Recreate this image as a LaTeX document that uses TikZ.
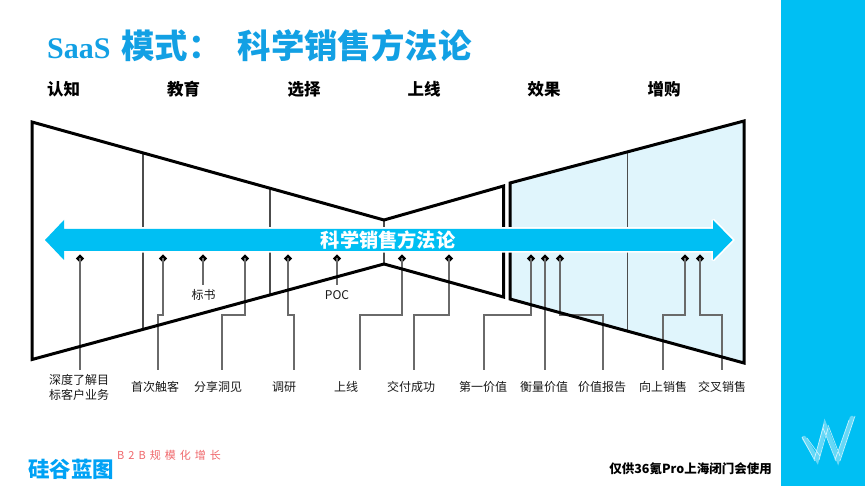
\documentclass[tikz,border=0pt]{standalone}
\usepackage{fontspec}
\setmainfont{Noto Sans CJK SC}
\newfontfamily\latinbold{Liberation Serif}
\usetikzlibrary{shapes.geometric}
\definecolor{cyanband}{HTML}{00BFF3}
\definecolor{titleblue}{HTML}{12A0E4}
\definecolor{palefill}{HTML}{E0F5FC}
\definecolor{linegray}{HTML}{6A6A6A}
\definecolor{logored}{HTML}{F0686C}
\newcommand{\fs}[1]{\fontsize{#1}{#1}\selectfont}
\tikzset{
  x=1pt,y=-1pt,
  outline/.style={draw=black,line width=3pt,line join=miter},
  divider/.style={draw=black!70,line width=1.1pt},
  conn/.style={draw=linegray,line width=1.1pt},
  pinmark/.style={diamond,fill=black,inner sep=0pt,minimum size=8.5pt},
  lab/.style={inner sep=0pt,font=\fs{12},text=black!90,align=center},
  head/.style={inner sep=0pt,font=\fs{16.5}\bfseries,text=black},
}
\begin{document}
\begin{tikzpicture}
\useasboundingbox (0,0) rectangle (865,486);
\fill[white] (0,0) rectangle (865,486);
\fill[cyanband] (781,0) rectangle (865,486);

% title and phase headers
\node[anchor=base west,inner sep=0pt,text=titleblue,font=\fs{33.4}\bfseries] (title) at (47,59)
  {{\latinbold\fs{30}SaaS}\hspace{11pt}模式：\hspace{16pt}科学销售方法论};
\node[head] (h1) at (63.5,89) {认知};
\node[head] (h2) at (183.5,89) {教育};
\node[head] (h3) at (304,89) {选择};
\node[head] (h4) at (424,89) {上线};
\node[head] (h5) at (544,89) {效果};
\node[head] (h6) at (664,89) {增购};

% funnel fill
\fill[palefill] (510,183) -- (744,121) -- (744,363) -- (510,299) -- cycle;

% dividers
\draw[divider] (143,153) -- (143,328);
\draw[divider] (270,189) -- (270,294);
\draw[divider] (384,220) -- (384,264);
\draw[divider] (627.5,153) -- (627.5,330);

% pins
\foreach \n/\x in {a/80,b/163,c/203,d/245,e/288,f/337,g/402,h/449,i/531,j/545,k/560,l/685,m/700}
  \node[pinmark] (p\n) at (\x,258.5) {};

% drop ends
\coordinate (ea) at (80,370);
\coordinate (eb) at (158,370);
\coordinate (ec) at (203,285);
\coordinate (ed) at (222,370);
\coordinate (ee) at (294,370);
\coordinate (ef) at (337,285);
\coordinate (eg) at (360,370);
\coordinate (eh) at (414,370);
\coordinate (ei) at (484,370);
\coordinate (ej) at (545,370);
\coordinate (ek) at (603,370);
\coordinate (el) at (663,370);
\coordinate (em) at (722,370);

% connectors
\draw[conn] (pa.center) -- (ea);
\draw[conn] (pb.center) -- ++(0,56.5) -| (eb);
\draw[conn] (pc.center) -- (ec);
\draw[conn] (pd.center) -- ++(0,56.5) -| (ed);
\draw[conn] (pe.center) -- ++(0,56.5) -| (ee);
\draw[conn] (pf.center) -- (ef);
\draw[conn] (pg.center) -- ++(0,56.5) -| (eg);
\draw[conn] (ph.center) -- ++(0,56.5) -| (eh);
\draw[conn] (pi.center) -- ++(0,56.5) -| (ei);
\draw[conn] (pj.center) -- (ej);
\draw[conn] (pk.center) -- ++(0,56.5) -| (ek);
\draw[conn] (pl.center) -- ++(0,56.5) -| (el);
\draw[conn] (pm.center) -- ++(0,56.5) -| (em);

% funnel outlines
\draw[outline] (32,122) -- (384,220) -- (503.5,186) -- (503.5,297) -- (384,264) -- (32,359.5) -- cycle;
\draw[outline] (510,183) -- (744,121) -- (744,363) -- (510,299) -- cycle;

% central arrow
\draw[draw=white,line width=3.5pt,line join=miter,miter limit=2,fill=cyanband]
  (45,240) -- (64,220) -- (64,229) -- (713,229) -- (713,220) -- (732.5,240)
  -- (713,260) -- (713,251) -- (64,251) -- (64,260) -- cycle;
\fill[cyanband]
  (45,240) -- (64,220) -- (64,229) -- (713,229) -- (713,220) -- (732.5,240)
  -- (713,260) -- (713,251) -- (64,251) -- (64,260) -- cycle;
\node[inner sep=0pt,text=white,font=\fs{19.2}\bfseries] (band) at (388,240) {科学销售方法论};

% labels
\node[lab] (l1) at (79,387.5) {\fs{12}深度了解目\\[3pt]标客户业务};
\node[lab] (l2) at (155,387) {首次触客};
\node[lab] (l3) at (218,387) {分享洞见};
\node[lab] (l4) at (284,387) {调研};
\node[lab] (l5) at (346,387) {上线};
\node[lab] (l6) at (411,387) {交付成功};
\node[lab] (l7) at (483,387) {第一价值};
\node[lab] (l8) at (544,387) {衡量价值};
\node[lab] (l9) at (602,387) {价值报告};
\node[lab] (l10) at (663,387) {向上销售};
\node[lab] (l11) at (722,387) {交叉销售};
\node[lab] (l12) at (203.5,295) {标书};
\node[lab] (l13) at (337,295) {POC};

% footer
\node[anchor=west,inner sep=0pt,text=cyanband!85!blue,font=\fs{21.5}\bfseries] (brand) at (28,469) {硅谷蓝图};
\node[anchor=west,inner sep=0pt,text=logored,font=\fs{11}] (slogan) at (117,455)
  {B\hspace{4pt}2\hspace{4pt}B\hspace{4pt}规\hspace{4pt}模\hspace{4pt}化\hspace{4pt}增\hspace{4pt}长};
\node[anchor=east,inner sep=0pt,text=black,font=\fs{12.5}\bfseries] (note) at (772,469) {仅供36氪Pro上海闭门会使用};

% W mark
\draw[white,opacity=.4,line width=4.5pt,line join=miter,line cap=round]
  (804,438) -- (817,459) -- (825,426) -- (838,459) -- (852,418);
\draw[white,opacity=.7,line width=.7pt]
  (802,437) -- (815,461) (807,438) -- (820,456)
  (814,460) -- (824,424) (819,460) -- (828,428)
  (823,428) -- (836,461) (828,425) -- (840,456)
  (835,460) -- (849,420) (840,461) -- (855,416);
\end{tikzpicture}
\end{document}
